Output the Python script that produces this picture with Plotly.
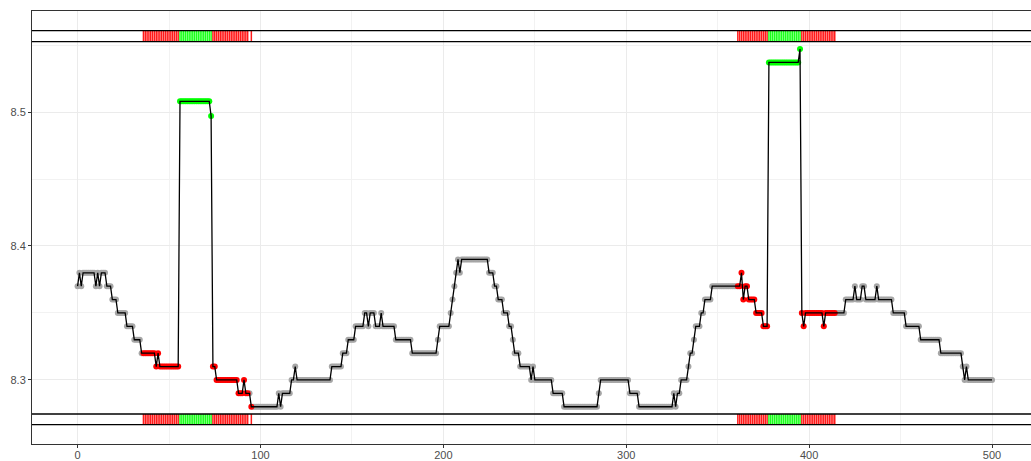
import numpy as np
import plotly.graph_objects as go

# Piecewise-constant series: each level holds from its start index to the next start
step_start = [
    0, 1, 2, 3, 10, 11, 12, 13, 16, 19,
    22, 27, 31, 35, 43, 44, 45, 56, 73, 74,
    76, 88, 91, 92, 95, 110, 111, 112, 117, 119,
    120, 139, 145, 148, 152, 157, 159, 160, 163, 166,
    167, 174, 183, 197, 198, 204, 205, 206, 207, 208,
    209, 210, 225, 228, 230, 233, 236, 238, 239, 242,
    248, 249, 250, 260, 266, 285, 286, 302, 307, 326,
    327, 328, 330, 334, 335, 337, 338, 341, 343, 347,
    363, 364, 365, 367, 371, 375, 378, 395, 396, 397,
    398, 408, 409, 420, 425, 426, 429, 431, 437, 438,
    446, 453, 461, 472, 484, 485, 486, 487,
]
step_level = [
    8.37, 8.38, 8.37, 8.38, 8.37, 8.38, 8.37, 8.38, 8.37, 8.36,
    8.35, 8.34, 8.33, 8.32, 8.31, 8.32, 8.31, 8.508, 8.497, 8.31,
    8.30, 8.29, 8.30, 8.29, 8.28, 8.29, 8.28, 8.29, 8.30, 8.31,
    8.30, 8.31, 8.32, 8.33, 8.34, 8.35, 8.34, 8.35, 8.34, 8.35,
    8.34, 8.33, 8.32, 8.33, 8.34, 8.35, 8.36, 8.37, 8.38, 8.39,
    8.38, 8.39, 8.38, 8.37, 8.36, 8.35, 8.34, 8.33, 8.32, 8.31,
    8.30, 8.31, 8.30, 8.29, 8.28, 8.29, 8.30, 8.29, 8.28, 8.29,
    8.28, 8.29, 8.30, 8.31, 8.32, 8.33, 8.34, 8.35, 8.36, 8.37,
    8.38, 8.36, 8.37, 8.36, 8.35, 8.34, 8.537, 8.547, 8.35, 8.34,
    8.35, 8.34, 8.35, 8.36, 8.37, 8.36, 8.37, 8.36, 8.37, 8.36,
    8.35, 8.34, 8.33, 8.32, 8.31, 8.30, 8.31, 8.30,
]
last_index = 500

# Flagged index spans (inclusive)
red_spans = [(36, 55), (74, 93), (95, 95), (361, 377), (396, 414)]
green_spans = [(56, 73), (378, 395)]

# Rug bands above and below the series
top_band = [8.5525, 8.5607]
bottom_band = [8.2666, 8.2746]

x_ticks = [0, 100, 200, 300, 400, 500]
y_ticks = [8.3, 8.4, 8.5]
y_tick_text = ["8.3", "8.4", "8.5"]

assert len(step_start) == len(step_level)
x = np.arange(last_index + 1)
idx = np.searchsorted(step_start, x, side="right") - 1
y = np.array(step_level)[idx]


def span_indices(spans):
    out = []
    for a, b in spans:
        out.extend(range(a, b + 1))
    return np.array(out, dtype=int)


red_idx = span_indices(red_spans)
green_idx = span_indices(green_spans)
plain = np.ones(len(x), dtype=bool)
plain[red_idx] = False
plain[green_idx] = False


def rug_segments(indices):
    xs, ys = [], []
    for band in (top_band, bottom_band):
        for i in indices:
            xs += [i, i, None]
            ys += [band[0], band[1], None]
    return xs, ys


fig = go.Figure()

fig.add_trace(go.Scatter(
    x=x[plain], y=y[plain], mode="markers",
    marker=dict(size=6, color="#a6a6a6", line=dict(width=0)),
    hoverinfo="skip", showlegend=False))
fig.add_trace(go.Scatter(
    x=x[red_idx], y=y[red_idx], mode="markers",
    marker=dict(size=6, color="#ff0000", line=dict(width=0)),
    showlegend=False))
fig.add_trace(go.Scatter(
    x=x[green_idx], y=y[green_idx], mode="markers",
    marker=dict(size=6, color="#00ff00", line=dict(width=0)),
    showlegend=False))
fig.add_trace(go.Scatter(
    x=x, y=y, mode="lines",
    line=dict(color="black", width=1.3),
    showlegend=False))

rx, ry = rug_segments(red_idx)
fig.add_trace(go.Scatter(x=rx, y=ry, mode="lines",
                         line=dict(color="#ff1a1a", width=1.5),
                         hoverinfo="skip", showlegend=False))
gx, gy = rug_segments(green_idx)
fig.add_trace(go.Scatter(x=gx, y=gy, mode="lines",
                         line=dict(color="#1aff1a", width=1.5),
                         hoverinfo="skip", showlegend=False))

for level in top_band + bottom_band:
    fig.add_shape(type="line", xref="x domain", x0=0, x1=1,
                  yref="y", y0=level, y1=level,
                  line=dict(color="black", width=1.3), layer="above")

tick_font = dict(family="Liberation Sans, Arial, sans-serif", size=11, color="#4d4d4d")

fig.update_layout(
    width=1031, height=461,
    margin=dict(l=32, r=0, t=11, b=17),
    paper_bgcolor="white", plot_bgcolor="white",
    showlegend=False,
    xaxis=dict(
        range=[-24.93, 521.3], tickmode="array", tickvals=x_ticks,
        ticktext=[str(v) for v in x_ticks],
        showgrid=True, gridcolor="#ebebeb", gridwidth=1.1,
        minor=dict(tickmode="array", tickvals=[50, 150, 250, 350, 450],
                   showgrid=True, gridcolor="#f2f2f2", gridwidth=0.6, ticks=""),
        zeroline=False, showline=True, linecolor="#333333", linewidth=1,
        mirror=True, ticks="outside", ticklen=3, tickwidth=1,
        tickcolor="#333333", tickfont=tick_font, automargin=False,
        ticklabelstandoff=-2,
    ),
    yaxis=dict(
        range=[8.2522, 8.5754], tickmode="array", tickvals=y_ticks,
        ticktext=y_tick_text,
        showgrid=True, gridcolor="#ebebeb", gridwidth=1.1,
        minor=dict(tickmode="array", tickvals=[8.25, 8.35, 8.45, 8.55],
                   showgrid=True, gridcolor="#f2f2f2", gridwidth=0.6, ticks=""),
        zeroline=False, showline=True, linecolor="#333333", linewidth=1,
        ticks="outside", ticklen=3, tickwidth=1,
        tickcolor="#333333", tickfont=tick_font, automargin=False,
    ),
)

fig.write_html("out.html")
